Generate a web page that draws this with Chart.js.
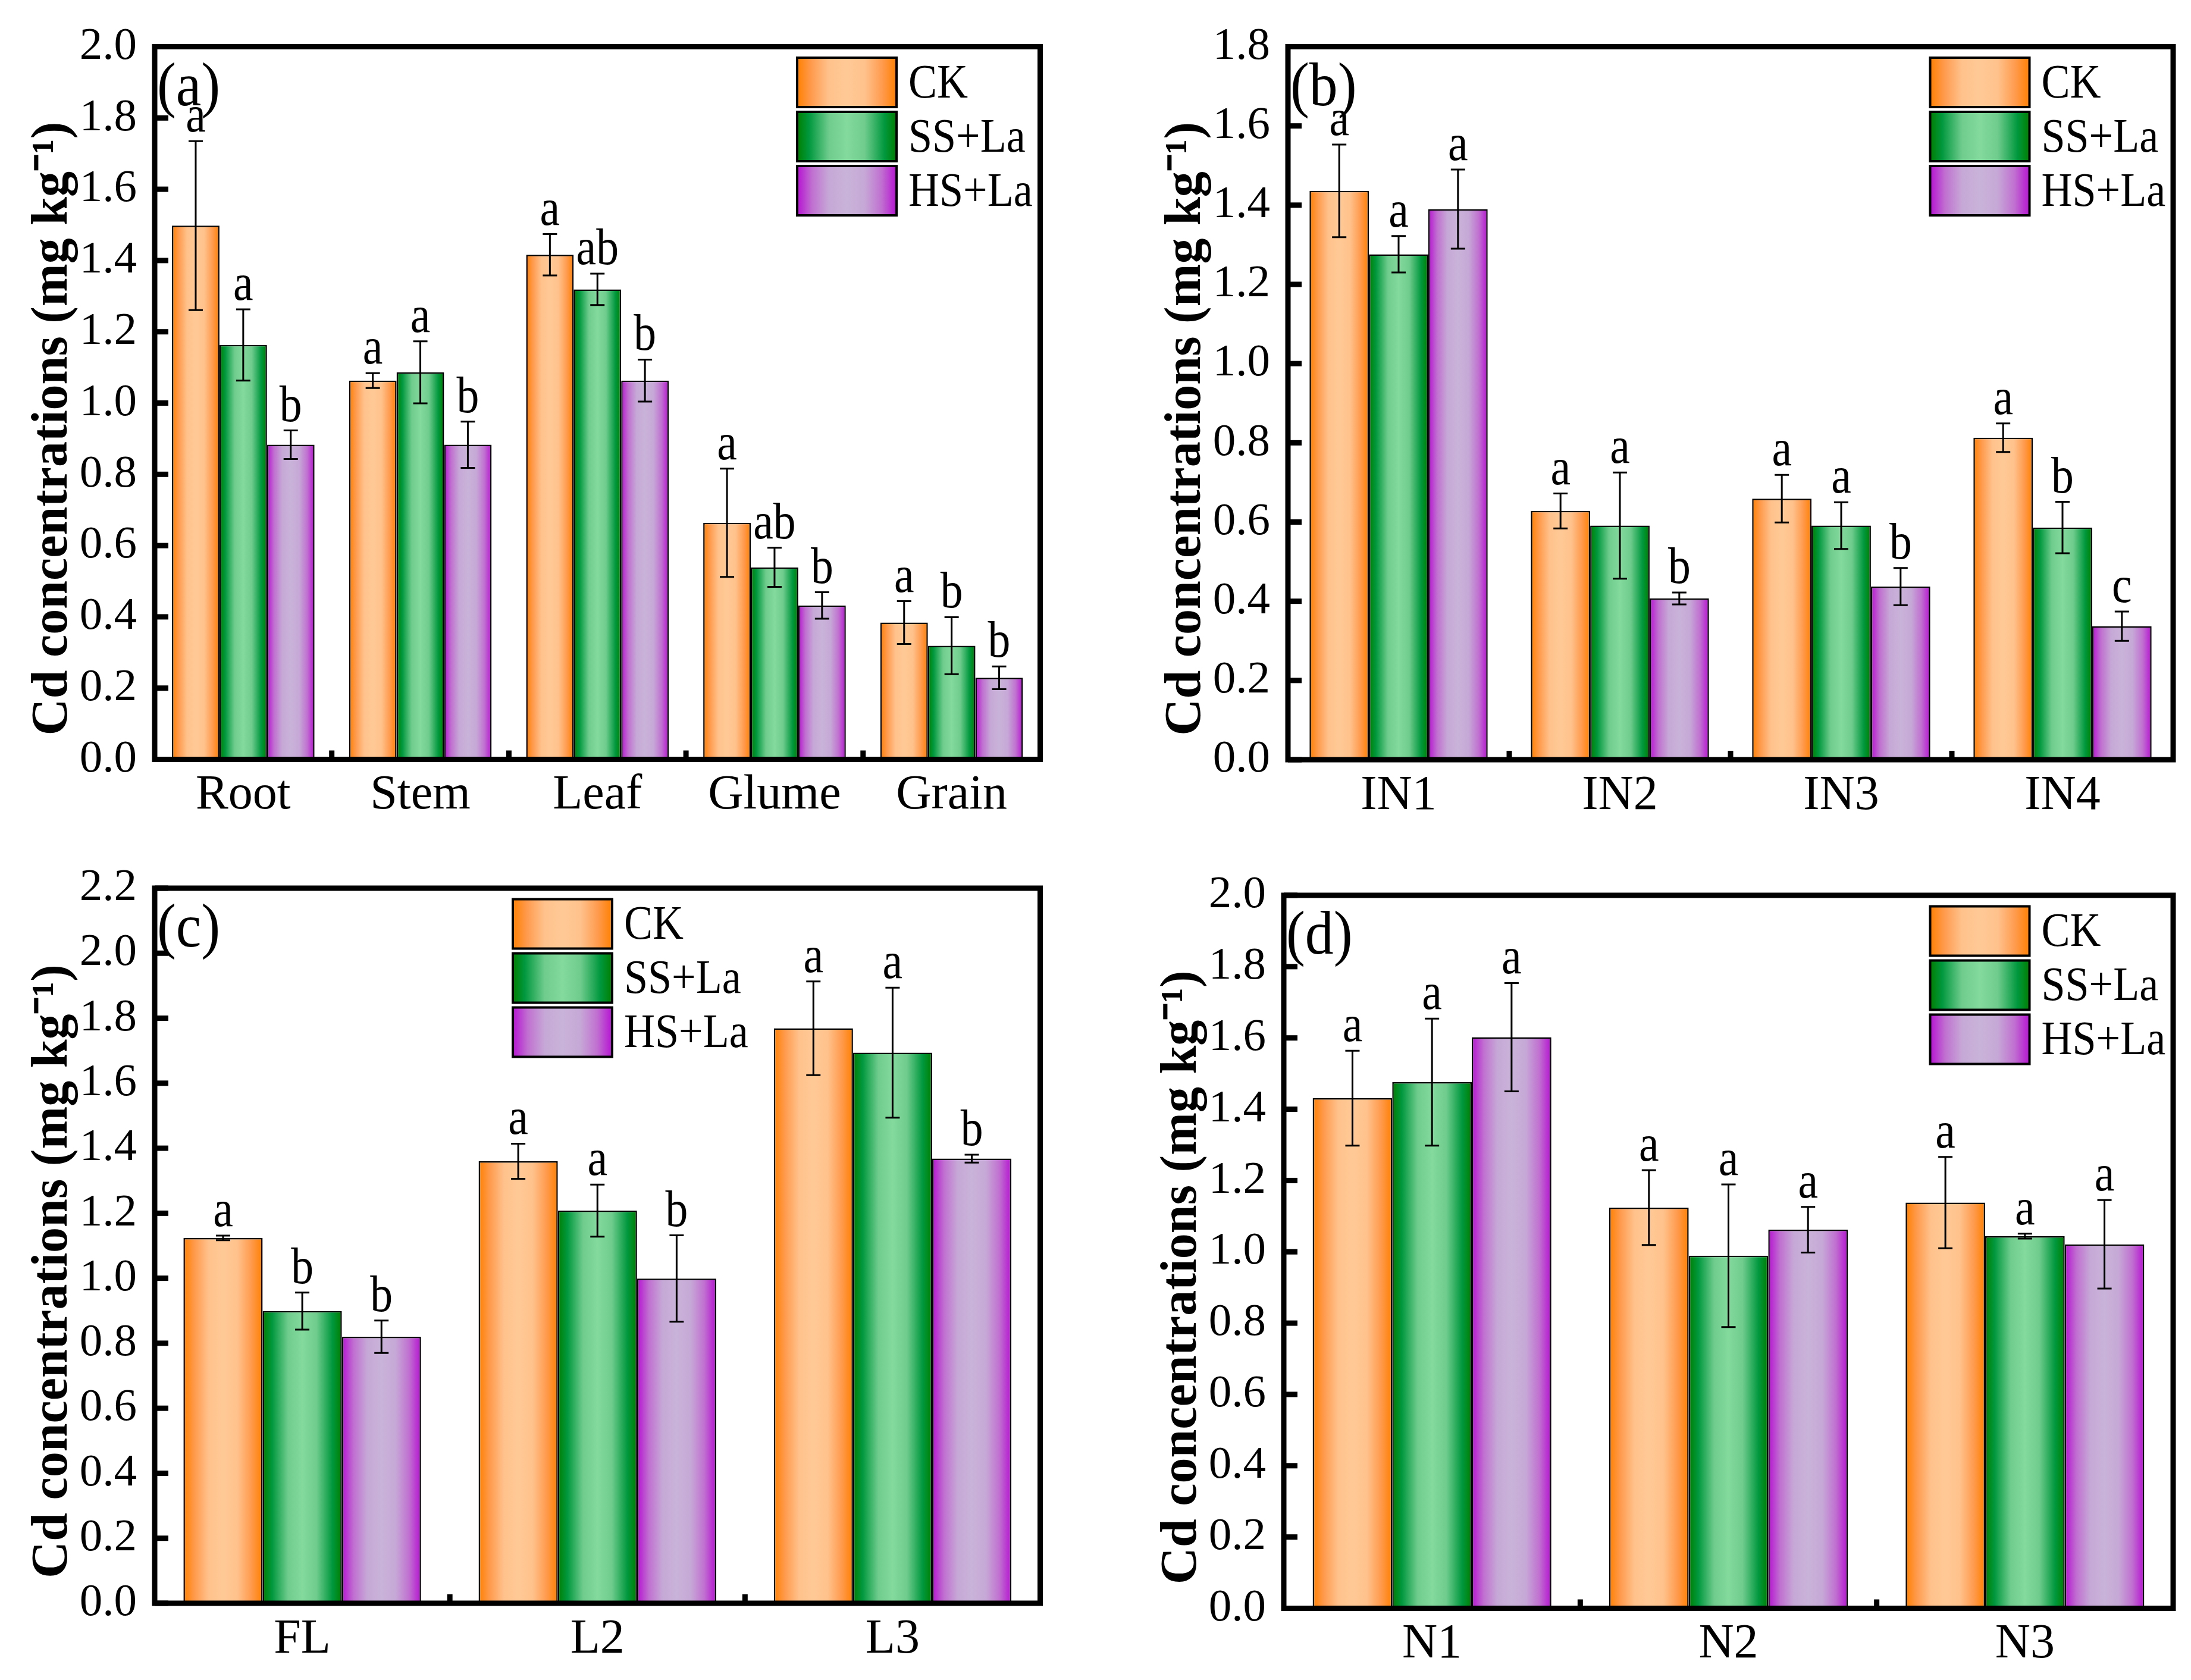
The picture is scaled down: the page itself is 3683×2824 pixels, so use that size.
<!DOCTYPE html>
<html>
<head>
<meta charset="utf-8">
<script src="https://cdn.jsdelivr.net/npm/chart.js@4.4.1/dist/chart.umd.min.js"></script>
<style>
  html, body { margin: 0; padding: 0; background: #fff; }
  #wrap { position: relative; width: 3683px; height: 2824px; background: #fff; overflow: hidden; }
  canvas { position: absolute; }
</style>
</head>
<body>
<div id="wrap">
  <canvas id="cA"></canvas>
  <canvas id="cB"></canvas>
  <canvas id="cC"></canvas>
  <canvas id="cD"></canvas>
</div>
<script>
// ---------------- DATA ----------------
const seriesNames = ['CK', 'SS+La', 'HS+La'];
const yTitle = 'Cd concentrations (mg kg\u207B\u00B9)';

// Panel (a)
const catsA = ['Root', 'Stem', 'Leaf', 'Glume', 'Grain'];
const ckA = [1.498, 1.063, 1.416, 0.664, 0.384];
const ssA = [1.163, 1.086, 1.319, 0.539, 0.319];
const hsA = [0.883, 0.883, 1.063, 0.432, 0.229];
const ckErrA = [0.237, 0.021, 0.058, 0.152, 0.060];
const ssErrA = [0.100, 0.087, 0.044, 0.055, 0.080];
const hsErrA = [0.040, 0.065, 0.059, 0.037, 0.032];
const ckSigA = ['a', 'a', 'a', 'a', 'a'];
const ssSigA = ['a', 'a', 'ab', 'ab', 'b'];
const hsSigA = ['b', 'b', 'b', 'b', 'b'];
const yMaxA = 2.0;

// Panel (b)
const catsB = ['IN1', 'IN2', 'IN3', 'IN4'];
const ckB = [1.436, 0.628, 0.659, 0.813];
const ssB = [1.276, 0.591, 0.591, 0.586];
const hsB = [1.390, 0.407, 0.437, 0.337];
const ckErrB = [0.117, 0.044, 0.060, 0.036];
const ssErrB = [0.046, 0.134, 0.059, 0.065];
const hsErrB = [0.100, 0.015, 0.047, 0.037];
const ckSigB = ['a', 'a', 'a', 'a'];
const ssSigB = ['a', 'a', 'a', 'b'];
const hsSigB = ['a', 'b', 'b', 'c'];
const yMaxB = 1.8;

// Panel (c)
const catsC = ['FL', 'L2', 'L3'];
const ckC = [1.124, 1.360, 1.769];
const ssC = [0.899, 1.208, 1.694];
const hsC = [0.820, 0.999, 1.368];
const ckErrC = [0.007, 0.054, 0.144];
const ssErrC = [0.057, 0.080, 0.200];
const hsErrC = [0.050, 0.133, 0.012];
const ckSigC = ['a', 'a', 'a'];
const ssSigC = ['b', 'a', 'a'];
const hsSigC = ['b', 'b', 'b'];
const yMaxC = 2.2;

// Panel (d)
const catsD = ['N1', 'N2', 'N3'];
const ckD = [1.431, 1.124, 1.138];
const ssD = [1.476, 0.989, 1.044];
const hsD = [1.602, 1.062, 1.021];
const ckErrD = [0.133, 0.105, 0.128];
const ssErrD = [0.178, 0.200, 0.007];
const hsErrD = [0.152, 0.064, 0.124];
const ckSigD = ['a', 'a', 'a'];
const ssSigD = ['a', 'a', 'a'];
const hsSigD = ['a', 'a', 'a'];
const yMaxD = 2.0;

// ---------------- STYLE ----------------
const SERIF = '"Liberation Serif", "Times New Roman", Times, serif';
Chart.defaults.font.family = SERIF;
Chart.defaults.color = '#000';

const ORANGE = [[0, '#FF8000'], [0.14, '#FF9A4C'], [0.32, '#FFC28C'], [0.5, '#FFC996'], [0.68, '#FFC28C'], [0.86, '#FF9A4C'], [1, '#FF8000']];
const GREEN  = [[0, '#007F00'], [0.12, '#00983E'], [0.32, '#6FCC8D'], [0.5, '#83DA9C'], [0.68, '#6FCC8D'], [0.88, '#00983E'], [1, '#007F00']];
const PURPLE = [[0, '#B612D2'], [0.15, '#C070D0'], [0.32, '#C6A8D6'], [0.5, '#C9B3D9'], [0.68, '#C6A8D6'], [0.85, '#C070D0'], [1, '#B612D2']];
const STOPS = [ORANGE, GREEN, PURPLE];

function gradFor(stops) {
  return (ctx) => {
    const el = ctx.element;
    if (!el || typeof el.x !== 'number' || !isFinite(el.x) || !el.width) return stops[3][1];
    const g = ctx.chart.ctx.createLinearGradient(el.x - el.width / 2, 0, el.x + el.width / 2, 0);
    stops.forEach(([o, c]) => g.addColorStop(o, c));
    return g;
  };
}

// condensed text helper (Origin-like narrow serif)
function condText(ctx, txt, x, y, size, sx, align, baseline) {
  ctx.save();
  ctx.translate(x, y);
  ctx.scale(sx, 1);
  ctx.font = size + 'px ' + SERIF;
  ctx.textAlign = align;
  ctx.textBaseline = baseline;
  ctx.fillText(txt, 0, 0);
  ctx.restore();
}

const XH = 120; // height of x-scale box

const panels = [
  { id: 'cA', tag: '(a)', cats: catsA, vals: [ckA, ssA, hsA], errs: [ckErrA, ssErrA, hsErrA], sigs: [ckSigA, ssSigA, hsSigA], max: yMaxA,
    x0: 0, y0: 0, w: 1841, h: 1412, L: 260, T: 78.5, R: 1748.5, B: 1276.5, legend: 'right' },
  { id: 'cB', tag: '(b)', cats: catsB, vals: [ckB, ssB, hsB], errs: [ckErrB, ssErrB, hsErrB], sigs: [ckSigB, ssSigB, hsSigB], max: yMaxB,
    x0: 1905, y0: 0, w: 1778, h: 1412, L: 2165, T: 78.5, R: 3653, B: 1277, legend: 'right' },
  { id: 'cC', tag: '(c)', cats: catsC, vals: [ckC, ssC, hsC], errs: [ckErrC, ssErrC, hsErrC], sigs: [ckSigC, ssSigC, hsSigC], max: yMaxC,
    x0: 0, y0: 1412, w: 1841, h: 1412, L: 260, T: 1493, R: 1748.5, B: 2695, legend: 'mid' },
  { id: 'cD', tag: '(d)', cats: catsD, vals: [ckD, ssD, hsD], errs: [ckErrD, ssErrD, hsErrD], sigs: [ckSigD, ssSigD, hsSigD], max: yMaxD,
    x0: 1898, y0: 1412, w: 1785, h: 1412, L: 2158, T: 1505, R: 3653, B: 2703.5, legend: 'right' }
];

function decorPlugin(p) {
  return {
    id: 'decor_' + p.id,
    afterDatasetsDraw(chart) {
      const ctx = chart.ctx;
      const ys = chart.scales.y;
      ctx.save();
      chart.data.datasets.forEach((ds, i) => {
        const meta = chart.getDatasetMeta(i);
        meta.data.forEach((el, j) => {
          const v = ds.data[j], e = p.errs[i][j];
          const yt = ys.getPixelForValue(v + e);
          const yb = ys.getPixelForValue(v - e);
          ctx.strokeStyle = '#000';
          ctx.lineWidth = 3;
          ctx.beginPath();
          ctx.moveTo(el.x, yt); ctx.lineTo(el.x, yb);
          ctx.moveTo(el.x - 12, yt); ctx.lineTo(el.x + 12, yt);
          ctx.moveTo(el.x - 12, yb); ctx.lineTo(el.x + 12, yb);
          ctx.stroke();
          ctx.fillStyle = '#000';
          condText(ctx, p.sigs[i][j], el.x, yt - 16, 86, 0.88, 'center', 'alphabetic');
        });
      });
      ctx.restore();
    },
    afterDraw(chart) {
      const ctx = chart.ctx;
      const a = chart.chartArea;
      const ys = chart.scales.y, xs = chart.scales.x;
      ctx.save();
      ctx.fillStyle = '#000';
      // inward y ticks
      ys.ticks.forEach(t => {
        const y = ys.getPixelForValue(t.value);
        ctx.fillRect(a.left, y - 4.5, 23, 9);
      });
      // minor ticks at category boundaries
      for (let k = 1; k < p.cats.length; k++) {
        const x = (xs.getPixelForValue(k - 1) + xs.getPixelForValue(k)) / 2;
        ctx.fillRect(x - 4.5, a.bottom - 15, 9, 15);
      }
      // frame
      ctx.strokeStyle = '#000';
      ctx.lineWidth = 9;
      ctx.strokeRect(a.left, a.top, a.right - a.left, a.bottom - a.top);
      // panel tag
      ctx.fillStyle = '#000';
      condText(ctx, p.tag, a.left + 4, a.top + 98, 104, 0.92, 'left', 'alphabetic');
      // legend
      const bw = 167, bh = 83, pitch = 91;
      const bx = p.legend === 'right' ? a.right - 408.5 : a.left + 602;
      chart.data.datasets.forEach((ds, i) => {
        const by = a.top + 18.5 + i * pitch;
        const g = ctx.createLinearGradient(bx, 0, bx + bw, 0);
        STOPS[i].forEach(([o, c]) => g.addColorStop(o, c));
        ctx.fillStyle = g;
        ctx.fillRect(bx, by, bw, bh);
        ctx.lineWidth = 4;
        ctx.strokeStyle = '#000';
        ctx.strokeRect(bx, by, bw, bh);
        ctx.fillStyle = '#000';
        condText(ctx, ds.label, bx + bw + 20, by + bh / 2 + 25, 80, 0.9, 'left', 'alphabetic');
      });
      ctx.restore();
    }
  };
}

function makePanel(p) {
  const canvas = document.getElementById(p.id);
  canvas.width = p.w; canvas.height = p.h;
  canvas.style.left = p.x0 + 'px'; canvas.style.top = p.y0 + 'px';
  canvas.style.width = p.w + 'px'; canvas.style.height = p.h + 'px';
  const datasets = seriesNames.map((name, i) => ({
    label: name,
    data: p.vals[i],
    backgroundColor: gradFor(STOPS[i]),
    borderColor: '#000',
    borderWidth: 2.5,
    borderSkipped: 'start',
    categoryPercentage: 0.805,
    barPercentage: 1.0
  }));
  const chart = new Chart(canvas, {
    type: 'bar',
    data: { labels: p.cats, datasets },
    options: {
      responsive: false,
      animation: false,
      devicePixelRatio: 1,
      events: [],
      layout: { padding: { top: p.T - p.y0, right: p.x0 + p.w - p.R, bottom: p.y0 + p.h - p.B - XH, left: 0 } },
      plugins: { legend: { display: false }, tooltip: { enabled: false } },
      scales: {
        x: {
          type: 'category', offset: true,
          grid: { display: false, drawTicks: false },
          border: { display: false },
          ticks: { font: { size: 82 }, padding: 12, maxRotation: 0, autoSkip: false, color: '#000' },
          afterFit(s) { s.height = XH; }
        },
        y: {
          min: 0, max: p.max,
          grid: { display: false, drawTicks: false },
          border: { display: false },
          ticks: { stepSize: 0.2, font: { size: 77 }, padding: 30, color: '#000', callback: v => Number(v).toFixed(1) },
          title: { display: true, text: yTitle + '    ', font: { size: 86, weight: 'bold' }, color: '#000', padding: { top: 38, bottom: 0 } },
          afterFit(s) { s.width = p.L - p.x0; }
        }
      }
    },
    plugins: [decorPlugin(p)]
  });
  chart.update('none');
  return chart;
}

panels.forEach(makePanel);
</script>
</body>
</html>
